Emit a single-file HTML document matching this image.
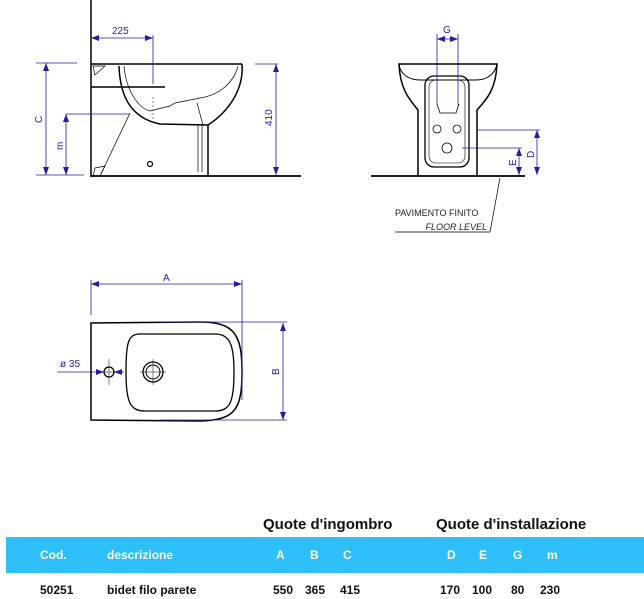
<!DOCTYPE html>
<html><head><meta charset="utf-8"><style>
body{margin:0;width:644px;height:599px;background:#fff;overflow:hidden;font-family:"Liberation Sans",sans-serif}
svg{position:absolute;left:0;top:0}
</style></head><body>
<svg width="644" height="599" viewBox="0 0 644 599">
<defs>
<marker id="a" markerWidth="8" markerHeight="6" refX="8" refY="3" orient="auto-start-reverse" markerUnits="userSpaceOnUse"><path d="M0,0 L8,3 L0,6z" fill="#2a1aa8"/></marker>
</defs>
<g fill="none" stroke="#000">
<!-- side view -->
<line x1="91" y1="0" x2="91" y2="177" stroke-width="1.5"/>
<line x1="91" y1="176" x2="301" y2="176" stroke-width="1.8"/>
<line x1="91" y1="64" x2="242" y2="64" stroke-width="1.5"/>
<line x1="91" y1="87" x2="165" y2="87" stroke-width="1.5"/>
<path d="M242,64 C244,90 228,112 208,125 L208,176" stroke-width="1.5"/>
<path d="M119,66 C120,95 130,118 160,124 L208,125" stroke-width="1.5"/>
<path d="M124,66 C126,90 138,108 150,111 L170,106 L175,103 L200,98 C220,95 234,82 238,66" stroke-width="0.7"/>
<path d="M197,103 L203,125 M198,125 L198,172 M202,125 L202,172" stroke-width="0.7"/>
<path d="M130,113 L100,176" stroke-width="0.7"/>
<path d="M93,66 L105,66 L95,75z M95,168 L105,166 L100,176 L93,176z" stroke-width="0.7"/>
<circle cx="150" cy="164" r="2.5" stroke-width="1.2"/>
<line x1="153" y1="97" x2="153" y2="122" stroke="#c33" stroke-dasharray="2,2" stroke-width="0.7"/>
<!-- front view -->
<line x1="371" y1="176" x2="525" y2="176" stroke-width="1.8"/>
<path d="M418,176 L418,110 C410,100 400,90 399,64 L497,64 C496,90 486,100 477,110 L477,176" stroke-width="1.5"/>
<path d="M399,64 C400,75 410,80 420,80 L476,80 C486,80 495,75 497,64" stroke-width="1"/>
<rect x="425" y="76" width="44" height="91" rx="9" stroke-width="1.3"/>
<rect x="429" y="80" width="36" height="83" rx="7" stroke-width="0.6"/>
<path d="M437,104 L440,113 L456,113 L459,104" stroke-width="0.8"/>
<circle cx="437" cy="129" r="4" stroke-width="0.8"/><circle cx="457" cy="129" r="4" stroke-width="0.8"/>
<circle cx="447" cy="148" r="5" stroke-width="0.8"/>
<path d="M500,178 L490,232 L395,232" stroke-width="0.7"/>
<!-- top view -->
<path d="M91,323 L91,420 L200,421 C235,420 242,410 242,372 C242,335 235,322 200,322 Z" stroke-width="1.5"/>
<path d="M140,334 L215,334 C230,334 234,345 234,372 C234,402 230,411 215,411 L145,411 C130,411 126,402 126,372 C126,343 128,334 140,334 Z" stroke-width="1.3"/>
<circle cx="153" cy="372" r="10" stroke-width="1.3"/><circle cx="153" cy="372" r="7" stroke-width="1"/>
<circle cx="109" cy="372" r="5" stroke-width="1.3"/>
<path d="M140,372 L166,372 M153,359 L153,385 M103,372 L115,372 M109,359 L109,385" stroke-width="0.5"/>
</g>
<g stroke="#2a1aa8" stroke-width="0.8" fill="none">
<line x1="91" y1="38" x2="153" y2="38" marker-start="url(#a)" marker-end="url(#a)"/>
<line x1="153" y1="35" x2="153" y2="84"/>
<line x1="36" y1="63" x2="77" y2="63"/>
<line x1="46" y1="63" x2="46" y2="175" marker-start="url(#a)" marker-end="url(#a)"/>
<line x1="36" y1="175" x2="84" y2="175"/>
<line x1="66" y1="114" x2="130" y2="114"/>
<line x1="66" y1="114" x2="66" y2="175" marker-start="url(#a)" marker-end="url(#a)"/>
<line x1="255" y1="64" x2="278" y2="64"/>
<line x1="276" y1="64" x2="276" y2="175" marker-start="url(#a)" marker-end="url(#a)"/>
<line x1="437" y1="34" x2="437" y2="105"/><line x1="458" y1="34" x2="458" y2="105"/>
<line x1="437" y1="39" x2="458" y2="39" marker-start="url(#a)" marker-end="url(#a)"/>
<line x1="478" y1="130" x2="540" y2="130"/>
<line x1="537" y1="130" x2="537" y2="175" marker-start="url(#a)" marker-end="url(#a)"/>
<line x1="462" y1="148" x2="522" y2="148"/>
<line x1="519" y1="148" x2="519" y2="175" marker-start="url(#a)" marker-end="url(#a)"/>
<line x1="91" y1="284" x2="242" y2="284" marker-start="url(#a)" marker-end="url(#a)"/>
<line x1="91" y1="280" x2="91" y2="315"/><line x1="242" y1="280" x2="242" y2="400"/>
<line x1="160" y1="322" x2="287" y2="322"/><line x1="160" y1="420" x2="287" y2="420"/>
<line x1="283" y1="323" x2="283" y2="420" marker-start="url(#a)" marker-end="url(#a)"/>
<line x1="57" y1="372" x2="104" y2="372" marker-end="url(#a)"/>
<line x1="124" y1="372" x2="114" y2="372" marker-end="url(#a)"/>
</g>
<g fill="#2a1aa8" font-size="10" font-family="Liberation Sans,sans-serif">
<text x="112" y="34">225</text>
<text x="163" y="281">A</text>
<text x="443" y="33">G</text>
<text x="60" y="367">ø  35</text>
<text transform="translate(42,123) rotate(-90)">C</text>
<text transform="translate(63,150) rotate(-90)">m</text>
<text transform="translate(272,126) rotate(-90)">410</text>
<text transform="translate(534,158) rotate(-90)">D</text>
<text transform="translate(516,166) rotate(-90)">E</text>
<text transform="translate(279,375) rotate(-90)">B</text>
</g>
<text x="395" y="216" font-size="9" fill="#222">PAVIMENTO FINITO</text>
<text x="487" y="230" font-size="9" font-style="italic" fill="#222" text-anchor="end">FLOOR LEVEL</text>
<!-- table -->
<text x="263" y="529" font-size="15" font-weight="bold" fill="#111">Quote d'ingombro</text>
<text x="436" y="529" font-size="15" font-weight="bold" fill="#111">Quote d'installazione</text>
<rect x="6" y="537" width="638" height="36" fill="#2ebff8"/>
<g fill="#fff" font-size="12" font-weight="bold">
<text x="40" y="559">Cod.</text><text x="107" y="559">descrizione</text>
<text x="276" y="559">A</text><text x="310" y="559">B</text><text x="343" y="559">C</text>
<text x="447" y="559">D</text><text x="479" y="559">E</text><text x="513" y="559">G</text><text x="547" y="559">m</text>
</g>
<g fill="#111" font-size="12" font-weight="bold">
<text x="40" y="594">50251</text><text x="107" y="594">bidet filo parete</text>
<text x="273" y="594">550</text><text x="305" y="594">365</text><text x="340" y="594">415</text>
<text x="440" y="594">170</text><text x="472" y="594">100</text><text x="511" y="594">80</text><text x="540" y="594">230</text>
</g>
</svg>
</body></html>
